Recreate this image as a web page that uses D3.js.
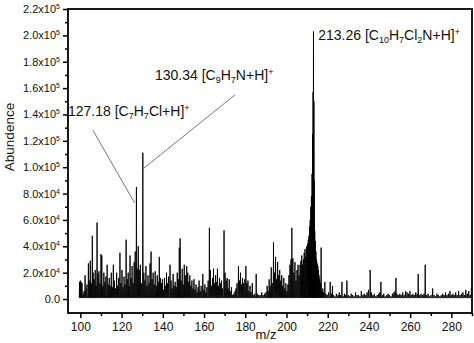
<!DOCTYPE html>
<html>
<head>
<meta charset="utf-8">
<script src="https://cdn.jsdelivr.net/npm/d3@7"></script>
<style>
  body { margin: 0; background: #fff; }
  text { font-family: "Liberation Sans", Arial, sans-serif; fill: #111; }
</style>
</head>
<body>
<script>
// Mass spectrum, m/z 94-290

var svgWidth = 474;
var svgHeight = 343;
var margin = { top: 9, right: 2, bottom: 30, left: 68 };

var width = svgWidth - margin.left - margin.right;
var height = svgHeight - margin.top - margin.bottom;

// peak positions (m/z) and abundances
var mz = [
  99.6, 100.0, 100.4, 100.8, 101.3, 101.8, 102.3, 102.7, 103.2, 103.9, 104.3, 104.8, 105.3, 105.8, 106.2, 106.7,
  107.2, 107.6, 108.1, 108.5, 109.0, 109.5, 110.0, 110.4, 110.9, 111.4, 111.9, 112.4, 113.0, 113.5, 114.0, 114.5,
  115.0, 115.5, 116.0, 116.5, 117.0, 117.6, 118.1, 118.6, 119.2, 119.7, 120.2, 120.7, 121.2, 121.7, 122.2, 122.7,
  123.2, 123.6, 124.1, 124.6, 125.1, 125.6, 126.1, 126.6, 127.2, 127.6, 128.1, 128.6, 129.1, 129.6, 130.3, 130.8,
  131.3, 131.8, 132.3, 132.8, 133.3, 133.8, 134.3, 134.8, 135.3, 135.8, 136.3, 136.8, 137.3, 137.8, 138.3, 138.8,
  139.3, 139.8, 140.3, 140.8, 141.3, 141.8, 142.3, 142.8, 143.5, 144.0, 144.5, 145.0, 145.5, 146.0, 146.5, 147.0,
  147.5, 148.0, 148.4, 148.9, 149.4, 149.9, 150.4, 150.9, 151.6, 152.1, 152.6, 153.1, 153.6, 154.1, 154.6, 155.1,
  155.6, 156.1, 156.6, 157.1, 157.6, 158.1, 158.6, 159.4, 159.9, 160.4, 160.9, 161.4, 162.0, 162.6, 163.1, 163.6,
  164.1, 164.6, 165.1, 165.6, 166.1, 166.5, 167.0, 167.5, 168.0, 168.5, 169.0, 169.7, 170.2, 170.7, 171.2, 171.7,
  172.2, 172.7, 173.3, 173.8, 174.4, 175.0, 175.5, 176.0, 176.7, 177.2, 177.7, 178.2, 178.7, 179.2, 179.8, 180.3,
  180.8, 181.3, 181.8, 182.3, 182.8, 183.4, 184.0, 184.6, 185.3, 185.8, 186.5, 187.2, 188.0, 188.6, 189.3, 190.0,
  190.6, 191.1, 191.6, 192.1, 192.6, 193.1, 193.7, 194.2, 194.7, 195.2, 195.7, 196.2, 196.7, 197.2, 197.7, 198.2,
  198.7, 199.2, 199.7, 200.2, 200.7, 201.2, 201.7, 202.2, 202.6, 203.1, 203.6, 204.1, 204.6, 205.1, 205.6, 206.1,
  206.6, 207.0, 207.4, 207.8, 208.2, 208.6, 209.0, 209.4, 209.8, 210.2, 210.6, 210.9, 211.2, 211.5, 211.8, 212.1,
  212.4, 212.7, 212.9, 213.1, 213.3, 213.5, 213.7, 214.0, 214.3, 214.6, 214.9, 215.2, 215.5, 215.8, 216.1, 216.5,
  216.8, 217.2, 217.6, 218.0, 218.6, 219.2, 219.8, 220.4, 221.2, 221.8, 222.3, 222.8, 223.5, 224.2, 225.0, 225.6,
  226.3, 226.9, 227.5, 228.1, 228.7, 229.3, 230.0, 230.7, 231.4, 232.1, 232.8, 233.5, 234.2, 234.9, 235.6, 236.3,
  237.0, 237.7, 238.4, 239.1, 239.8, 240.6, 241.2, 241.9, 242.6, 243.3, 244.0, 244.7, 245.3, 245.8, 246.5, 247.2,
  247.9, 248.6, 249.3, 250.0, 250.7, 251.4, 252.1, 252.7, 253.1, 253.6, 254.3, 255.0, 255.7, 256.4, 257.1, 257.8,
  258.5, 259.2, 259.9, 260.6, 261.3, 262.0, 262.7, 263.4, 263.9, 264.6, 265.3, 266.0, 266.7, 267.3, 268.0, 268.7,
  269.4, 270.1, 270.9, 271.6, 272.3, 273.0, 273.7, 274.4, 275.1, 275.8, 276.5, 277.2, 277.9, 278.6, 279.3, 280.0,
  280.7, 281.4, 282.1, 282.8, 283.5, 284.2, 284.9, 285.6, 286.3, 287.0, 287.7, 288.4, 289.1, 289.7
];

// abundance in units of 10^4
var abundance = [
  1.3, 1.4, 1.3, 1.2, 0.4, 0.6, 1.8, 0.8, 1.1, 2.7, 1.4, 2.9, 1.2, 4.8, 2.0, 1.5,
  2.2, 1.0, 5.8, 1.9, 2.1, 1.2, 3.4, 3.3, 1.0, 2.0, 1.3, 1.7, 2.6, 1.1, 1.6, 1.0,
  2.0, 0.9, 2.6, 1.4, 0.8, 2.0, 1.0, 1.6, 3.5, 1.2, 2.2, 0.9, 1.7, 1.1, 4.5, 1.5,
  2.0, 1.0, 3.3, 1.6, 2.5, 1.2, 2.8, 3.6, 8.5, 2.3, 4.0, 2.2, 2.6, 1.2, 11.1, 2.0,
  1.4, 2.5, 1.0, 1.8, 1.2, 2.7, 3.6, 1.5, 2.0, 1.1, 2.1, 1.0, 1.8, 1.3, 3.2, 1.6,
  1.2, 1.5, 0.7, 1.6, 1.0, 2.0, 1.2, 1.7, 2.6, 1.4, 0.8, 1.9, 1.0, 1.3, 0.9, 2.0,
  1.5, 3.9, 4.6, 1.4, 2.3, 1.1, 2.6, 1.8, 2.5, 2.0, 1.3, 1.8, 1.0, 1.4, 0.8, 1.5,
  0.7, 1.1, 0.5, 0.9, 1.4, 0.6, 1.0, 1.9, 0.7, 1.1, 0.5, 0.9, 1.4, 5.4, 2.2, 1.0,
  1.6, 2.3, 1.2, 1.8, 1.3, 2.3, 1.0, 1.6, 1.2, 1.4, 0.8, 5.2, 2.0, 1.4, 1.6, 0.8,
  1.5, 0.6, 0.9, 0.3, 0.4, 0.6, 0.8, 1.2, 2.5, 1.4, 2.0, 1.1, 1.6, 1.2, 1.5, 2.5,
  1.2, 1.4, 0.6, 1.0, 0.5, 1.2, 0.3, 0.4, 1.9, 0.4, 0.3, 0.3, 0.5, 0.3, 0.4, 0.5,
  1.0, 0.6, 1.5, 1.0, 2.4, 1.2, 4.3, 2.0, 3.2, 1.5, 2.8, 1.8, 2.2, 1.4, 1.8, 1.0,
  1.6, 0.8, 1.2, 0.6, 1.1, 1.8, 2.6, 3.0, 5.4, 3.1, 2.0, 2.8, 1.4, 2.2, 2.6, 1.8,
  2.6, 2.9, 3.3, 2.6, 3.0, 3.5, 3.8, 3.2, 4.0, 4.2, 4.5, 4.8, 5.5, 6.0, 7.0, 7.8,
  9.5, 12.5, 15.7, 20.3, 15.0, 9.0, 5.2, 4.4, 3.6, 3.0, 2.7, 2.5, 2.2, 1.8, 1.5, 1.2,
  3.9, 0.6, 0.8, 0.5, 1.3, 0.4, 0.3, 0.5, 1.3, 0.4, 1.0, 0.3, 0.2, 0.4, 0.3, 0.5,
  0.3, 1.3, 0.2, 0.4, 0.3, 1.4, 0.3, 0.2, 0.4, 0.3, 0.2, 0.5, 0.3, 0.3, 0.2, 0.6,
  0.3, 0.4, 0.3, 0.5, 0.7, 2.2, 0.5, 0.3, 0.4, 0.2, 0.3, 0.4, 0.5, 1.3, 0.3, 0.4,
  0.2, 0.3, 0.4, 0.3, 0.2, 0.4, 0.5, 0.6, 1.6, 0.4, 0.3, 0.4, 0.3, 0.5, 0.3, 0.6,
  0.5, 0.4, 0.6, 0.3, 0.4, 0.3, 0.5, 0.4, 1.9, 0.3, 0.4, 0.3, 0.4, 2.6, 0.3, 0.4,
  0.2, 0.3, 0.8, 0.3, 0.2, 0.4, 0.3, 0.2, 0.3, 0.4, 0.3, 0.5, 0.3, 0.4, 0.6, 0.3,
  0.4, 0.3, 0.5, 0.3, 0.6, 0.3, 0.4, 0.5, 0.3, 0.7, 0.4, 0.6, 0.3, 0.8
];

var baseline = 0.1;   // 10^4, floor between peaks

// axis ticks
var xTicks = [100, 120, 140, 160, 180, 200, 220, 240, 260, 280];
var xMinorTicks = [110, 130, 150, 170, 190, 210, 230, 250, 270, 290];
var yTicks = [0, 20000, 40000, 60000, 80000, 100000, 120000, 140000, 160000, 180000, 200000, 220000];
var yMinorTicks = [10000, 30000, 50000, 70000, 90000, 110000, 130000, 150000, 170000, 190000, 210000];
var yTickLabels = ["0.0", "2.0x10|4", "4.0x10|4", "6.0x10|4", "8.0x10|4", "1.0x10|5", "1.2x10|5",
  "1.4x10|5", "1.6x10|5", "1.8x10|5", "2.0x10|5", "2.2x10|5"];

// peak annotations: label parts ("_" = subscript, "^" = superscript)
var annotations = [
  { text: [["127.18 [C"], ["7", "_"], ["H"], ["7", "_"], ["Cl+H]"], ["+", "^"]],
    at: [94, 139000], from: [106.1, 128000], to: [126.3, 73000] },
  { text: [["130.34 [C"], ["9", "_"], ["H"], ["7", "_"], ["N+H]"], ["+", "^"]],
    at: [136.2, 166000], from: [175.1, 155000], to: [130.6, 99000] },
  { text: [["213.26 [C"], ["10", "_"], ["H"], ["7", "_"], ["Cl"], ["2", "_"], ["N+H]"], ["+", "^"]],
    at: [215.4, 196500], from: null, to: null }
];

var svg = d3.select("body")
  .append("svg")
  .attr("width", svgWidth)
  .attr("height", svgHeight);

var chartGroup = svg.append("g")
  .attr("transform", `translate(${margin.left}, ${margin.top})`);

var xScale = d3.scaleLinear().domain([94, 290]).range([0, width]);
var yScale = d3.scaleLinear().domain([-10600, 220000]).range([height, 0]);

// clip for the spectrum
chartGroup.append("clipPath").attr("id", "plotClip")
  .append("rect").attr("width", width).attr("height", height);

// build spectrum points: baseline - peak - baseline
var points = [];
mz.forEach(function (m, i) {
  points.push([m - 0.14, baseline * 10000]);
  points.push([m, abundance[i] * 10000]);
  points.push([m + 0.14, baseline * 10000]);
});

var line = d3.line()
  .x(function (d) { return xScale(d[0]); })
  .y(function (d) { return yScale(d[1]); });

chartGroup.append("path")
  .datum(points)
  .attr("clip-path", "url(#plotClip)")
  .attr("d", line)
  .attr("fill", "none")
  .attr("stroke", "#000")
  .attr("stroke-width", 0.9)
  .attr("stroke-linejoin", "miter");

// axes
var xAxis = d3.axisBottom(xScale).tickValues(xTicks).tickSize(5).tickPadding(4).tickFormat(d3.format("d"));
var xMinor = d3.axisBottom(xScale).tickValues(xMinorTicks).tickSize(3).tickFormat("");
var yAxis = d3.axisLeft(yScale).tickValues(yTicks).tickSize(5).tickPadding(3).tickFormat("");
var yMinor = d3.axisLeft(yScale).tickValues(yMinorTicks).tickSize(3).tickFormat("");

var gx = chartGroup.append("g").attr("class", "x-axis")
  .attr("transform", `translate(0,${height})`).call(xAxis);
chartGroup.append("g").attr("transform", `translate(0,${height})`).call(xMinor);
var gy = chartGroup.append("g").attr("class", "y-axis").call(yAxis);
chartGroup.append("g").call(yMinor);

chartGroup.selectAll(".domain").remove();
chartGroup.selectAll(".tick line").attr("stroke", "#000").attr("stroke-width", 1.5);
gx.selectAll("text").attr("font-size", "12px").attr("fill", "#111")
  .style("font-family", "'Liberation Sans', Arial, sans-serif");

// y tick labels with exponent
gy.selectAll(".tick text").each(function (d, i) {
  var parts = yTickLabels[i].split("|");
  var t = d3.select(this).attr("font-size", "11px").attr("fill", "#111").attr("dy", "0.32em")
    .style("font-family", "'Liberation Sans', Arial, sans-serif");
  t.text(null);
  t.append("tspan").text(parts[0]);
  if (parts[1]) {
    t.append("tspan").attr("dy", "-4").attr("font-size", "7px").text(parts[1]);
  }
});

// frame
chartGroup.append("rect")
  .attr("width", width)
  .attr("height", height)
  .attr("fill", "none")
  .attr("stroke", "#000")
  .attr("stroke-width", 1.8);

// annotations
annotations.forEach(function (a) {
  if (a.from) {
    chartGroup.append("line")
      .attr("x1", xScale(a.from[0])).attr("y1", yScale(a.from[1]))
      .attr("x2", xScale(a.to[0])).attr("y2", yScale(a.to[1]))
      .attr("stroke", "#555").attr("stroke-width", 0.8);
  }
  var t = chartGroup.append("text")
    .attr("x", xScale(a.at[0]))
    .attr("y", yScale(a.at[1]))
    .attr("font-size", "14px");
  var shift = 0;
  a.text.forEach(function (p) {
    var target = p[1] === "_" ? 3 : p[1] === "^" ? -5 : 0;
    var ts = t.append("tspan").text(p[0]).attr("dy", target - shift);
    if (p[1]) ts.attr("font-size", "9px");
    shift = target;
  });
});

// axis titles
svg.append("text")
  .attr("transform", "translate(14,137)rotate(-90)")
  .attr("text-anchor", "middle")
  .attr("font-size", "13.5px")
  .text("Abundence");

svg.append("text")
  .attr("x", 266)
  .attr("y", svgHeight - 4)
  .attr("text-anchor", "middle")
  .attr("font-size", "13px")
  .text("m/z");
</script>
</body>
</html>
